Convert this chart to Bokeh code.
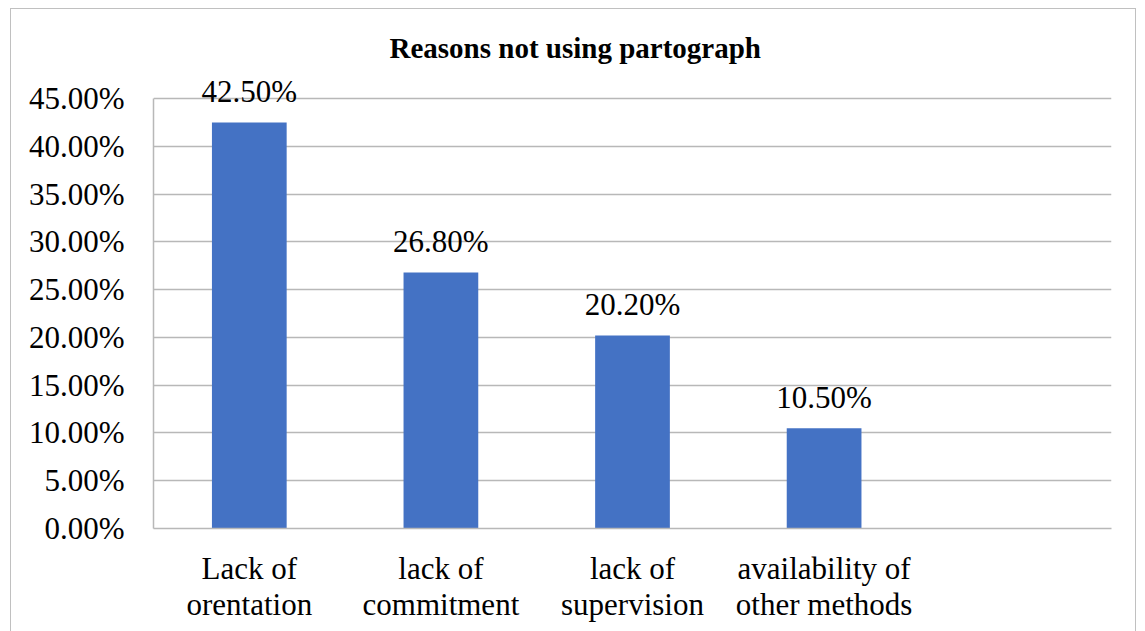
from bokeh.plotting import figure
from bokeh.models import (ColumnDataSource, FactorRange, NumeralTickFormatter,
                          LabelSet, Title, FixedTicker, InlineStyleSheet)
from bokeh.embed import file_html
from bokeh.resources import INLINE

# Survey results: reasons given for not using the partograph
categories = ["Lack of\norentation", "lack of\ncommitment", "lack of\nsupervision",
              "availability of\nother methods", " "]
shares = [0.425, 0.268, 0.202, 0.105]
y_ticks = [0.0, 0.05, 0.10, 0.15, 0.20, 0.25, 0.30, 0.35, 0.40, 0.45]

SERIF = "'Liberation Serif', 'Times New Roman', serif"
BAR_COLOR = "#4472C4"
GRID_COLOR = "#b8b8b8"

src = ColumnDataSource(dict(
    cat=categories[:len(shares)],
    val=shares,
    lbl=[f"{v * 100:.2f}%" for v in shares],
))

# a little head room above the 45 % line so the value labels are not clipped
p = figure(
    width=1145, height=631,
    x_range=FactorRange(factors=categories),
    y_range=(0, 0.4814),
    output_backend="svg", toolbar_location=None,
    min_border_left=153, min_border_right=34,
    min_border_top=68, min_border_bottom=103,
)

p.vbar(x="cat", top="val", width=0.39, source=src,
       fill_color=BAR_COLOR, line_color=None)

p.add_layout(LabelSet(x="cat", y="val", text="lbl", source=src,
                      text_align="center", text_baseline="alphabetic",
                      y_offset=20, text_font=SERIF, text_font_size="31px",
                      text_color="#000000"))

p.title = Title(text="Reasons not using partograph", align="left",
                offset=236, text_font=SERIF, text_font_size="29px",
                text_font_style="bold", text_color="#000000", standoff=10)

p.yaxis.ticker = FixedTicker(ticks=y_ticks)
p.yaxis.bounds = (0, 0.45)
p.yaxis.formatter = NumeralTickFormatter(format="0.00%")
for ax in (p.xaxis, p.yaxis):
    ax.major_tick_line_color = None
    ax.minor_tick_line_color = None
    ax.axis_line_color = GRID_COLOR
    ax.axis_line_width = 1.5
    ax.major_label_text_font = SERIF
    ax.major_label_text_font_size = "31px"
    ax.major_label_text_color = "#000000"
p.yaxis.major_label_standoff = 23
p.xaxis.major_label_standoff = 16
p.xaxis.major_label_text_line_height = 1.05

p.xgrid.grid_line_color = None
p.ygrid.grid_line_color = GRID_COLOR
p.ygrid.grid_line_width = 1.5
p.outline_line_color = None
p.background_fill_color = "white"
p.border_fill_color = "white"

# Light frame around the whole chart box
p.stylesheets = [InlineStyleSheet(css="""
:host { position: relative; }
:host::after {
  content: "";
  position: absolute;
  left: 10px; top: 8px;
  width: 1124px; height: 700px;
  border: 1.5px solid #c0c0c0;
  pointer-events: none;
}
""")]

open("out.html", "w").write(file_html(p, INLINE))
